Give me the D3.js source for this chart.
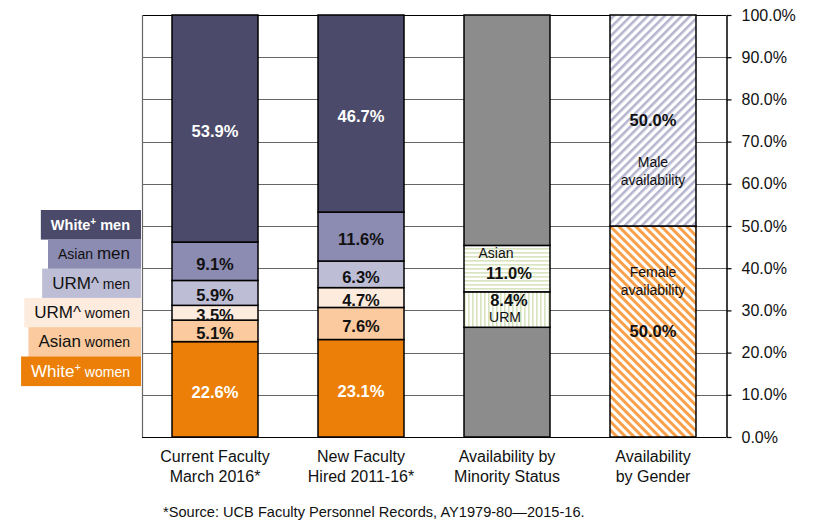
<!DOCTYPE html>
<html><head><meta charset="utf-8">
<script src="https://cdn.jsdelivr.net/npm/d3@7"></script>
<style>
body{margin:0;background:#fff;}
text{font-family:"Liberation Sans",Arial,sans-serif;}
</style></head>
<body><svg id="c" width="814" height="526"></svg>
<script>
// ---- data ----
const categories = ["Current Faculty|March 2016*", "New Faculty|Hired 2011-16*", "Availability by|Minority Status", "Availability|by Gender"];
const seriesNames = ["White+ women", "Asian women", "URM^ women", "URM^ men", "Asian men", "White+ men"];
const currentFaculty = [22.6, 5.1, 3.5, 5.9, 9.1, 53.9];
const newFaculty = [23.1, 7.6, 4.7, 6.3, 11.6, 46.7];
const minorityNames = ["Other", "URM", "Asian", "Other"];
const minorityAvail = [26.0, 8.4, 11.0, 54.6];
const genderNames = ["Female", "Male"];
const genderAvail = [50.0, 50.0];
const tickValues = [0, 10, 20, 30, 40, 50, 60, 70, 80, 90, 100];

const seriesColors = ["#eb7f07", "#fbca9e", "#fdebdd", "#bdbdd5", "#8c8bb1", "#4b4a6a"];
const labelColors = ["#fff", "#111", "#111", "#111", "#111", "#fff"];

const svg = d3.select("#c");
const L = 142, R = 726, T = 15, B = 437;
const x = d3.scaleBand().domain(categories).range([L, R]).paddingInner(0.411).paddingOuter(0.2055);
const y = d3.scaleLinear().domain([0, 100]).range([B, T]).clamp(true);

// patterns
const defs = svg.append("defs");
function stripe(id, color, angle, size, w, bg) {
  const p = defs.append("pattern").attr("id", id).attr("patternUnits", "userSpaceOnUse")
    .attr("width", size).attr("height", size).attr("patternTransform", `rotate(${angle})`);
  p.append("rect").attr("width", size).attr("height", size).attr("fill", bg);
  p.append("rect").attr("x", 0).attr("y", 0).attr("width", w).attr("height", size).attr("fill", color);
}
stripe("male", "#b5b5cf", 45, 6, 2.6, "#fff");
stripe("female", "#f9a04a", -45, 6, 3.0, "#fff");
stripe("hstripe", "#d7e4bf", 90, 4, 1.6, "#fff");
stripe("vstripe", "#d7e4bf", 0, 4, 1.6, "#fff");

// grid
svg.append("g").selectAll("line").data(tickValues).join("line")
  .attr("x1", L).attr("x2", R).attr("y1", d => Math.round(y(d)) + 0.5).attr("y2", d => Math.round(y(d)) + 0.5)
  .attr("stroke", d => (d === 0 || d === 100) ? "#000" : "#666").attr("stroke-width", 1.2);
svg.append("line").attr("x1", L + 0.5).attr("x2", L + 0.5).attr("y1", T).attr("y2", B)
  .attr("stroke", "#666").attr("stroke-width", 1.2);

// stacked bars
function stack(vals) {
  const c = d3.cumsum(vals);
  return vals.map((v, i) => ({ v, y0: c[i] - v, y1: c[i], i }));
}
function drawStack(cat, vals, fills, strokeW) {
  const g = svg.append("g");
  const s = stack(vals);
  g.selectAll("rect").data(s).join("rect")
    .attr("x", x(cat)).attr("width", x.bandwidth())
    .attr("y", d => y(d.y1)).attr("height", d => y(d.y0) - y(d.y1))
    .attr("fill", d => fills[d.i]).attr("stroke", "#000").attr("stroke-width", strokeW);
  return s;
}
const BIG = 16.5, SMALL = 14;
[[categories[0], currentFaculty], [categories[1], newFaculty]].forEach(([cat, vals]) => {
  const s = drawStack(cat, vals, seriesColors, 1.5);
  svg.append("g").selectAll("text").data(s).join("text")
    .attr("x", x(cat) + x.bandwidth() / 2)
    .attr("y", d => (y(d.y0) + y(d.y1)) / 2 + 4)
    .attr("dominant-baseline", "middle").attr("text-anchor", "middle")
    .attr("font-size", BIG).attr("font-weight", "bold")
    .attr("fill", d => labelColors[d.i])
    .text(d => d.v.toFixed(1) + "%");
});

// minority availability
const mFills = ["#8c8c8c", "url(#vstripe)", "url(#hstripe)", "#8c8c8c"];
const ms = drawStack(categories[2], minorityAvail, mFills, 1.5);
const cx3 = x(categories[2]) + x.bandwidth() / 2;
const urm = ms[1], asian = ms[2];
function t(xx, yy, txt, size, bold) {
  svg.append("text").attr("x", xx).attr("y", yy).attr("dominant-baseline", "middle")
    .attr("text-anchor", "middle").attr("font-size", size).attr("font-weight", bold ? "bold" : "normal")
    .attr("fill", "#111").text(txt);
}
t(cx3 - 11, y(asian.y1) + 9, "Asian", SMALL, false);
t(cx3 + 2, y(asian.y1) + 29, asian.v.toFixed(1) + "%", BIG, true);
t(cx3 + 2, y(urm.y1) + 10, urm.v.toFixed(1) + "%", BIG, true);
t(cx3 - 2, y(urm.y1) + 26, "URM", SMALL, false);

// gender availability
const gs = drawStack(categories[3], genderAvail, ["url(#female)", "url(#male)"], 1.5);
const cx4 = x(categories[3]) + x.bandwidth() / 2;
const fem = gs[0], male = gs[1];
t(cx4, y(male.y1) + 107, male.v.toFixed(1) + "%", BIG, true);
t(cx4, y(male.y1) + 148, "Male", SMALL, false);
t(cx4, y(male.y1) + 166, "availability", SMALL, false);
t(cx4, y(fem.y1) + 47, "Female", SMALL, false);
t(cx4, y(fem.y1) + 65, "availability", SMALL, false);
t(cx4, y(fem.y1) + 107, fem.v.toFixed(1) + "%", BIG, true);

// right axis
const ax = svg.append("g").attr("transform", `translate(${R + 0.5},0)`)
  .call(d3.axisRight(y).tickValues(tickValues).tickFormat(d => d.toFixed(1) + "%").tickSize(5).tickSizeOuter(0).tickPadding(10));
ax.select(".domain").attr("stroke", "#000").attr("stroke-width", 1.5);
ax.selectAll(".tick line").attr("stroke", "#000").attr("stroke-width", 1.2);
ax.selectAll(".tick text").attr("font-size", 16).attr("fill", "#111").attr("font-family", "Liberation Sans, Arial, sans-serif");

// category labels
categories.forEach(c => {
  const lines = c.split("|");
  lines.forEach((ln, i) => {
    svg.append("text").attr("x", x(c) + x.bandwidth() / 2).attr("y", 458 + i * 20)
      .attr("dominant-baseline", "middle").attr("text-anchor", "middle")
      .attr("font-size", 16).attr("fill", "#111").text(ln);
  });
});

// legend (text parts listed in series order: White+ women ... White+ men)
const legendParts = [
  [["White", 17], ["+", 11, false, true], [" women", 14]],
  [["Asian", 17], [" women", 14]],
  [["URM^", 17], [" women", 14]],
  [["URM^", 17], [" men", 14]],
  [["Asian ", 14], ["men", 17]],
  [["White", 14.5, true], ["+", 10, true, true], [" men", 14.5, true]]
];
const legY0 = 210, legStep = 29.3, legRight = 141;
const order = [5, 4, 3, 2, 1, 0];
order.forEach((si, r) => {
  const g = svg.append("g");
  const top = legY0 + r * legStep;
  const rect = g.append("rect").attr("y", top).attr("height", legStep + 0.3).attr("fill", seriesColors[si]);
  const tx = g.append("text").attr("x", legRight - 11).attr("y", top + legStep / 2 + 5.5)
    .attr("text-anchor", "end").attr("fill", labelColors[si]);
  legendParts[si].forEach(([s, fs, bold, sup]) => {
    const ts = tx.append("tspan").attr("font-size", fs).attr("font-weight", bold ? "bold" : "normal").text(s);
    if (sup) ts.attr("baseline-shift", "super");
  });
  const bb = tx.node().getBBox();
  rect.attr("x", bb.x - 10).attr("width", legRight - (bb.x - 10));
});

// footnote
svg.append("text").attr("x", 163).attr("y", 517).attr("font-size", 14.6).attr("fill", "#111")
  .text("*Source: UCB Faculty Personnel Records, AY1979-80\u20142015-16.");
</script></body></html>
